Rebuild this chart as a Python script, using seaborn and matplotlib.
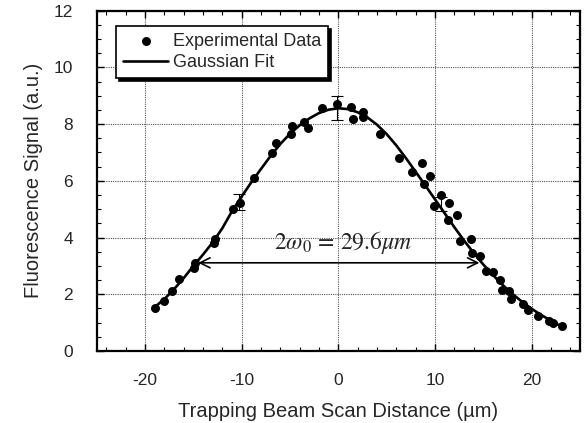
import numpy as np
import pandas as pd
import matplotlib
matplotlib.use("Agg")
import matplotlib.pyplot as plt
from matplotlib.ticker import MultipleLocator
import seaborn as sns

exp_x = [-19.0, -18.0, -17.2, -16.5, -14.9, -14.8, -12.9, -12.8, -10.9, -10.2,
         -8.7, -6.85, -6.45, -4.9, -4.8, -3.5, -3.1, -1.65, -0.15, 1.3,
         1.5, 2.55, 2.6, 4.35, 6.3, 7.6, 8.7, 8.85, 9.45, 9.9,
         10.65, 11.45, 11.35, 12.3, 12.6, 13.7, 13.8, 14.7, 15.3, 16.0,
         16.7, 16.9, 17.7, 17.9, 19.1, 19.6, 20.7, 21.8, 22.2, 23.1]
exp_y = [1.51, 1.77, 2.12, 2.54, 2.94, 3.11, 3.80, 3.94, 5.02, 5.22,
         6.10, 6.97, 7.32, 7.65, 7.95, 8.07, 7.85, 8.58, 8.71, 8.59,
         8.18, 8.44, 8.24, 7.65, 6.79, 6.31, 6.64, 5.90, 6.17, 5.13,
         5.51, 5.23, 4.63, 4.79, 3.88, 3.96, 3.46, 3.35, 2.83, 2.77,
         2.50, 2.15, 2.13, 1.85, 1.66, 1.45, 1.23, 1.07, 0.98, 0.88]

# Gaussian fit curve
fit_x = [-19, -18, -17, -16, -15, -14, -13, -12, -11, -10, -9, -8, -7, -6, -5,
         -4, -3, -2, -1, 0, 1, 2, 3, 4, 5, 6, 7, 8, 9, 10, 11, 12, 13, 14,
         15, 16, 17, 18, 19, 20, 21, 22, 23]
fit_y = [1.55, 1.83, 2.18, 2.57, 3.00, 3.40, 3.83, 4.33, 4.93, 5.45, 5.95, 6.42,
         6.88, 7.30, 7.66, 7.96, 8.20, 8.39, 8.51, 8.56, 8.53, 8.42, 8.24, 7.98,
         7.65, 7.25, 6.80, 6.32, 5.84, 5.35, 4.86, 4.37, 3.90, 3.46, 3.05, 2.68,
         2.33, 2.02, 1.74, 1.49, 1.27, 1.07, 0.88]

# Error bars
err_x = [-10.3, -0.1, 10.6]
err_y = [5.25, 8.57, 5.17]
err_e = [0.27, 0.43, 0.25]

width_label = r"$2\omega_0\,=\,29.6\mu m$"
arrow_left, arrow_right, arrow_y = -14.5, 14.6, 3.11

sns.set_style("ticks")
plt.rcParams['font.family'] = ['Liberation Sans', 'DejaVu Sans']
plt.rcParams['mathtext.fontset'] = 'stix'
plt.rcParams['axes.unicode_minus'] = False

fig = plt.figure(figsize=(5.84, 4.23), dpi=100)
ax = fig.add_axes([0.1656, 0.1702, 0.8274, 0.8045])

df_exp = pd.DataFrame({"x": exp_x, "y": exp_y})
df_fit = pd.DataFrame({"x": fit_x, "y": fit_y})

ax.errorbar(err_x, err_y, yerr=err_e, fmt='none', ecolor='black',
            elinewidth=0.8, capsize=4.5, capthick=0.8, zorder=2)
sns.lineplot(data=df_fit, x="x", y="y", ax=ax, color="black", linewidth=1.9,
             label="Gaussian Fit", zorder=3, sort=True)
sns.scatterplot(data=df_exp, x="x", y="y", ax=ax, color="black", s=42,
                edgecolor="black", linewidth=0, label="Experimental Data", zorder=4)

ax.set_xlim(-25, 25)
ax.set_ylim(0, 12)
ax.xaxis.set_major_locator(MultipleLocator(10))
ax.xaxis.set_minor_locator(MultipleLocator(2))
ax.yaxis.set_major_locator(MultipleLocator(2))
ax.yaxis.set_minor_locator(MultipleLocator(0.5))
ax.tick_params(which='both', direction='in', top=True, right=True, color='black')
ax.tick_params(which='major', length=5, width=1.0, labelsize=12.5)
ax.tick_params(axis='x', which='major', pad=16)
ax.tick_params(axis='y', which='major', pad=17)
ax.tick_params(which='minor', length=3, width=0.8)
ax.grid(True, which='major', linestyle=(0, (1, 1)), color='#555555', linewidth=0.8)
for s in ax.spines.values():
    s.set_linewidth(1.6)
    s.set_color('black')

ax.set_xlabel("Trapping Beam Scan Distance (µm)", fontsize=14.5, labelpad=10)
ax.set_ylabel("Fluorescence Signal (a.u.)", fontsize=14.5, labelpad=8)

ax.annotate("", xy=(arrow_left, arrow_y), xytext=(arrow_right, arrow_y),
            arrowprops=dict(arrowstyle="<->", color="black", lw=1.2,
                            mutation_scale=18, shrinkA=0, shrinkB=0), zorder=5)
ax.text(0.5, 3.35, width_label, fontsize=17, ha='center', va='bottom', zorder=5)

handles, labels = ax.get_legend_handles_labels()
order = [labels.index("Experimental Data"), labels.index("Gaussian Fit")]
leg = ax.legend([handles[i] for i in order], [labels[i] for i in order],
                loc='upper left', bbox_to_anchor=(0.04, 0.955), fontsize=13,
                frameon=True, fancybox=False, shadow={'color': 'black', 'alpha': 1},
                edgecolor='black', borderpad=0.4, handlelength=2.5,
                handletextpad=0.25, labelspacing=0.2, borderaxespad=0)
leg.get_frame().set_linewidth(1.2)
leg.set_zorder(10)

fig.savefig("out.png", dpi=100)
